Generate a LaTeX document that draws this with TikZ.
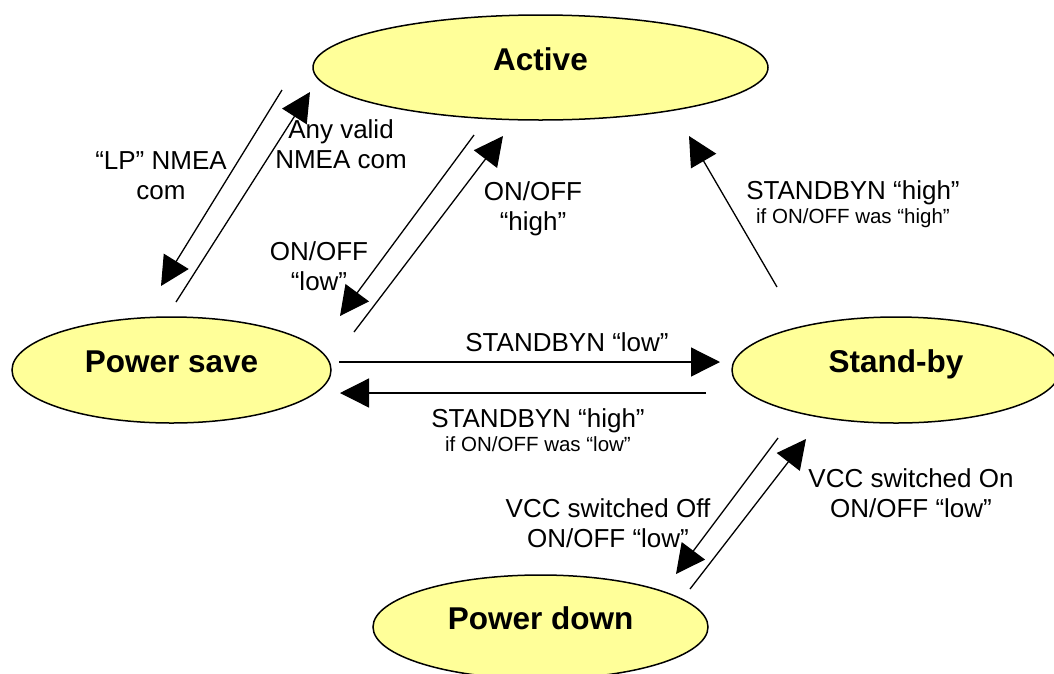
\documentclass[tikz,border=0pt]{standalone}
\usepackage{fontspec}
\setmainfont{Liberation Sans}
\usetikzlibrary{arrows.meta,shapes.geometric}
\definecolor{stfill}{RGB}{255,255,153}
\newcommand\twoline[2]{\begin{tabular}[t]{@{}c@{}}#1\\#2\end{tabular}}
\newcommand\twolinesmall[2]{\begin{tabular}[t]{@{}c@{}}#1\\[-6pt]{\fontsize{20.5}{24}\selectfont #2}\end{tabular}}
\begin{document}
\begin{tikzpicture}[x=1pt,y=-1pt,
  state/.style={ellipse, draw=black, line width=1.5pt, fill=stfill, inner sep=0pt,
    text height=5pt, text depth=0pt, font=\fontsize{31.5}{36}\selectfont\bfseries},
  lbl/.style={inner sep=0pt, anchor=base, font=\fontsize{26}{30}\selectfont},
  tr/.style={-{Triangle[length=29pt,width=29pt]}, line width=1.3pt}]
\clip (0,0) rectangle (1054,673);
\fill[white] (0,0) rectangle (1054,673);
% states
\node[state, minimum width=455pt, minimum height=105pt] (act) at (540.5,67.5) {Active};
\node[state, minimum width=319pt, minimum height=106pt] (ps) at (171.5,370) {Power save};
\node[state, minimum width=328pt, minimum height=106pt] (sb) at (896,370) {Stand-by};
\node[state, minimum width=335pt, minimum height=104pt] (pd) at (540.5,627) {Power down};
% connector end points
\coordinate (a1s) at (282,90);  \coordinate (a1e) at (161,286);
\coordinate (a2s) at (176,302); \coordinate (a2e) at (310,92);
\coordinate (a3s) at (474,135); \coordinate (a3e) at (340,316);
\coordinate (a4s) at (354,332); \coordinate (a4e) at (503,136);
\coordinate (a5s) at (777,287); \coordinate (a5e) at (689,136);
\coordinate (a6s) at (339,362); \coordinate (a6e) at (720,362);
\coordinate (a7s) at (706,393); \coordinate (a7e) at (340,393);
\coordinate (a8s) at (778,438); \coordinate (a8e) at (676,574);
\coordinate (a9s) at (690,589); \coordinate (a9e) at (806,439);
\draw[tr] (a1s) -- (a1e);
\draw[tr] (a2s) -- (a2e);
\draw[tr] (a3s) -- (a3e);
\draw[tr] (a4s) -- (a4e);
\draw[tr] (a5s) -- (a5e);
\draw[tr] (a6s) -- (a6e);
\draw[tr] (a7s) -- (a7e);
\draw[tr] (a8s) -- (a8e);
\draw[tr] (a9s) -- (a9e);
% labels
\node[lbl] (tLP) at (161,169) {\twoline{“LP” NMEA}{com}};
\node[lbl] (tAny) at (341,138) {\twoline{Any valid}{NMEA com}};
\node[lbl] (tOffLow) at (319,260) {\twoline{ON/OFF}{“low”}};
\node[lbl] (tOffHigh) at (533,200) {\twoline{ON/OFF}{“high”}};
\node[lbl] (tSBlow) at (567,351) {STANDBYN “low”};
\node[lbl] (tSBhighL) at (538,427) {\twolinesmall{STANDBYN “high”}{if ON/OFF was “low”}};
\node[lbl] (tSBhighR) at (853,199) {\twolinesmall{STANDBYN “high”}{if ON/OFF was “high”}};
\node[lbl] (tVoff) at (608,517) {\twoline{VCC switched Off}{ON/OFF “low”}};
\node[lbl] (tVon) at (911,487) {\twoline{VCC switched On}{ON/OFF “low”}};
\end{tikzpicture}
\end{document}
